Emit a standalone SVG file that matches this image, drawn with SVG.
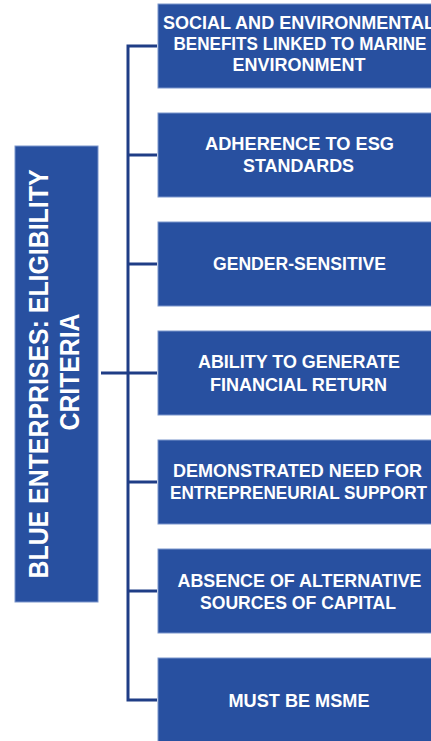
<svg xmlns="http://www.w3.org/2000/svg" width="431" height="741" viewBox="0 0 431 741">
  <style>
    .box { fill: #2850a0; stroke: #7b95cc; stroke-width: 1; }
    .lbl { fill: #ffffff; font-family: "Liberation Sans", Arial, sans-serif; font-weight: bold; font-size: 18px; text-anchor: middle; }
    .title { fill: #ffffff; font-family: "Liberation Sans", Arial, sans-serif; font-weight: bold; font-size: 27px; text-anchor: middle; }
    .wire { fill: none; stroke: #1f3d86; stroke-width: 3; }
  </style>

  <!-- connectors: trunk from the title box, spine, and one branch per criterion -->
  <g id="connectors">
    <line class="wire" x1="101" y1="373" x2="157" y2="373"/>
    <path class="wire" d="M157 46 H128 V700 H157"/>
    <line class="wire" x1="128" y1="155" x2="157" y2="155"/>
    <line class="wire" x1="128" y1="264" x2="157" y2="264"/>
    <line class="wire" x1="128" y1="482" x2="157" y2="482"/>
    <line class="wire" x1="128" y1="591" x2="157" y2="591"/>
  </g>

  <!-- title box with vertical text -->
  <g id="title">
    <rect class="box" x="15" y="146" width="83" height="456"/>
    <text class="title" transform="translate(48 374) rotate(-90)" x="0" y="0" textLength="409" lengthAdjust="spacingAndGlyphs">BLUE ENTERPRISES:  ELIGIBILITY</text>
    <text class="title" transform="translate(79 372) rotate(-90)" x="0" y="0" textLength="117" lengthAdjust="spacingAndGlyphs">CRITERIA</text>
  </g>

  <g id="c1">
    <rect class="box" x="158" y="4" width="282" height="84"/>
    <text class="lbl" x="299" y="29" textLength="272" lengthAdjust="spacingAndGlyphs">SOCIAL AND ENVIRONMENTAL</text>
    <text class="lbl" x="300" y="50" textLength="253" lengthAdjust="spacingAndGlyphs">BENEFITS LINKED TO MARINE</text>
    <text class="lbl" x="299" y="71" textLength="133" lengthAdjust="spacingAndGlyphs">ENVIRONMENT</text>
  </g>

  <g id="c2">
    <rect class="box" x="158" y="113" width="282" height="84"/>
    <text class="lbl" x="299.5" y="149.5" textLength="189" lengthAdjust="spacingAndGlyphs">ADHERENCE TO ESG</text>
    <text class="lbl" x="298.5" y="171.5" textLength="111" lengthAdjust="spacingAndGlyphs">STANDARDS</text>
  </g>

  <g id="c3">
    <rect class="box" x="158" y="222" width="282" height="84"/>
    <text class="lbl" x="299.5" y="269.5" textLength="173" lengthAdjust="spacingAndGlyphs">GENDER-SENSITIVE</text>
  </g>

  <g id="c4">
    <rect class="box" x="158" y="331" width="282" height="84"/>
    <text class="lbl" x="299" y="368" textLength="202" lengthAdjust="spacingAndGlyphs">ABILITY TO GENERATE</text>
    <text class="lbl" x="298.5" y="390.5" textLength="177" lengthAdjust="spacingAndGlyphs">FINANCIAL RETURN</text>
  </g>

  <g id="c5">
    <rect class="box" x="158" y="440" width="282" height="84"/>
    <text class="lbl" x="297.5" y="476.5" textLength="249" lengthAdjust="spacingAndGlyphs">DEMONSTRATED NEED FOR</text>
    <text class="lbl" x="298.5" y="499" textLength="257" lengthAdjust="spacingAndGlyphs">ENTREPRENEURIAL SUPPORT</text>
  </g>

  <g id="c6">
    <rect class="box" x="158" y="549" width="282" height="84"/>
    <text class="lbl" x="299.5" y="586.5" textLength="244" lengthAdjust="spacingAndGlyphs">ABSENCE OF ALTERNATIVE</text>
    <text class="lbl" x="298" y="608.5" textLength="196" lengthAdjust="spacingAndGlyphs">SOURCES OF CAPITAL</text>
  </g>

  <g id="c7">
    <rect class="box" x="158" y="658" width="282" height="90"/>
    <text class="lbl" x="299" y="706.5" textLength="141" lengthAdjust="spacingAndGlyphs">MUST BE MSME</text>
  </g>
</svg>
